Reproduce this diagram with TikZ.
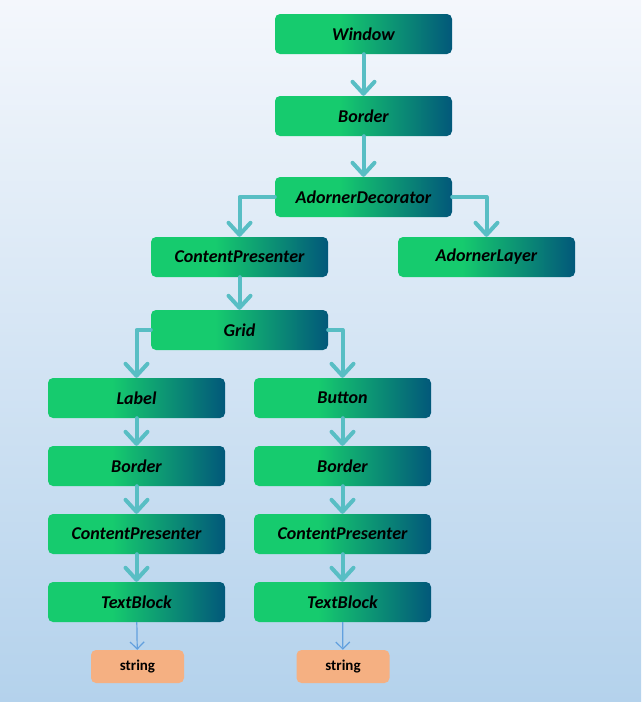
\documentclass[tikz,border=0pt]{standalone}
\usepackage{fontspec}
\setmainfont{Carlito}
\usetikzlibrary{arrows.meta}
\definecolor{boxgreen}{RGB}{22,203,110}
\definecolor{boxblue}{RGB}{2,88,122}
\definecolor{linkcol}{RGB}{88,190,196}
\definecolor{thincol}{RGB}{98,160,222}
\definecolor{leafcol}{RGB}{245,176,130}
\definecolor{bgtop}{RGB}{244,247,252}
\definecolor{bgbot}{RGB}{180,210,236}
\pgfdeclarehorizontalshading{boxgrad}{100bp}{color(0bp)=(boxgreen); color(43bp)=(boxgreen); color(75bp)=(boxblue); color(100bp)=(boxblue)}
\tikzset{
  elem/.style={shading=boxgrad, rounded corners=5pt, minimum width=177pt, minimum height=40pt,
    inner sep=0pt, font=\fontsize{18}{21}\selectfont\bfseries\itshape},
  leaf/.style={fill=leafcol, rounded corners=5pt, minimum width=93pt, minimum height=33pt,
    inner sep=0pt, font=\fontsize{15}{18}\selectfont\bfseries},
  link/.style={draw=linkcol, line width=4pt, line cap=round, line join=round,
    -{Straight Barb[length=12pt,width=22pt,line width=4pt,round]}},
  thin/.style={draw=thincol, line width=1.2pt,
    -{Straight Barb[length=7pt,width=14pt,line width=1.2pt]}}
}
\begin{document}
\begin{tikzpicture}[x=1pt, y=-1pt, line join=round]
	\shade[top color=bgtop, bottom color=bgbot] (0,0) rectangle (641,702);
	\useasboundingbox (0,0) rectangle (641,702);
	
	% arbre visuel
	\node[elem] (win) at (363.5,34) {Window};
	\node[elem] (bor) at (363.5,116) {Border};
	\node[elem] (adec) at (363.5,197) {AdornerDecorator};
	\node[elem] (cp) at (239.5,257) {ContentPresenter};
	\node[elem] (alay) at (486.5,257) {AdornerLayer};
	\node[elem] (grid) at (239.5,330) {Grid};
	
	\node[elem] (lab) at (136.5,398) {Label};
	\node[elem] (lbor) at (136.5,466) {Border};
	\node[elem] (lcp) at (136.5,534) {ContentPresenter};
	\node[elem] (ltb) at (136.5,602) {TextBlock};
	\node[leaf] (lstr) at (137.5,666.5) {string};
	
	\node[elem] (btn) at (342.5,398) {Button};
	\node[elem] (bbor) at (342.5,466) {Border};
	\node[elem] (bcp) at (342.5,534) {ContentPresenter};
	\node[elem] (btb) at (342.5,602) {TextBlock};
	\node[leaf] (bstr) at (343,666.5) {string};
	
	\draw[link] (win) -- (bor);
	\draw[link] (bor) -- (adec);
	\draw[link] (adec.west) -| (cp.north);
	\draw[link] (adec.east) -| (alay.north);
	\draw[link] (cp) -- (grid);
	\draw[link] (grid.west) -| (lab.north);
	\draw[link] (grid.east) -| (btn.north);
	
	\draw[link] (lab) -- (lbor);
	\draw[link] (lbor) -- (lcp);
	\draw[link] (lcp) -- (ltb);
	\draw[thin] (ltb) -- (lstr);
	
	\draw[link] (btn) -- (bbor);
	\draw[link] (bbor) -- (bcp);
	\draw[link] (bcp) -- (btb);
	\draw[thin] (btb) -- (bstr);
\end{tikzpicture}
\end{document}
